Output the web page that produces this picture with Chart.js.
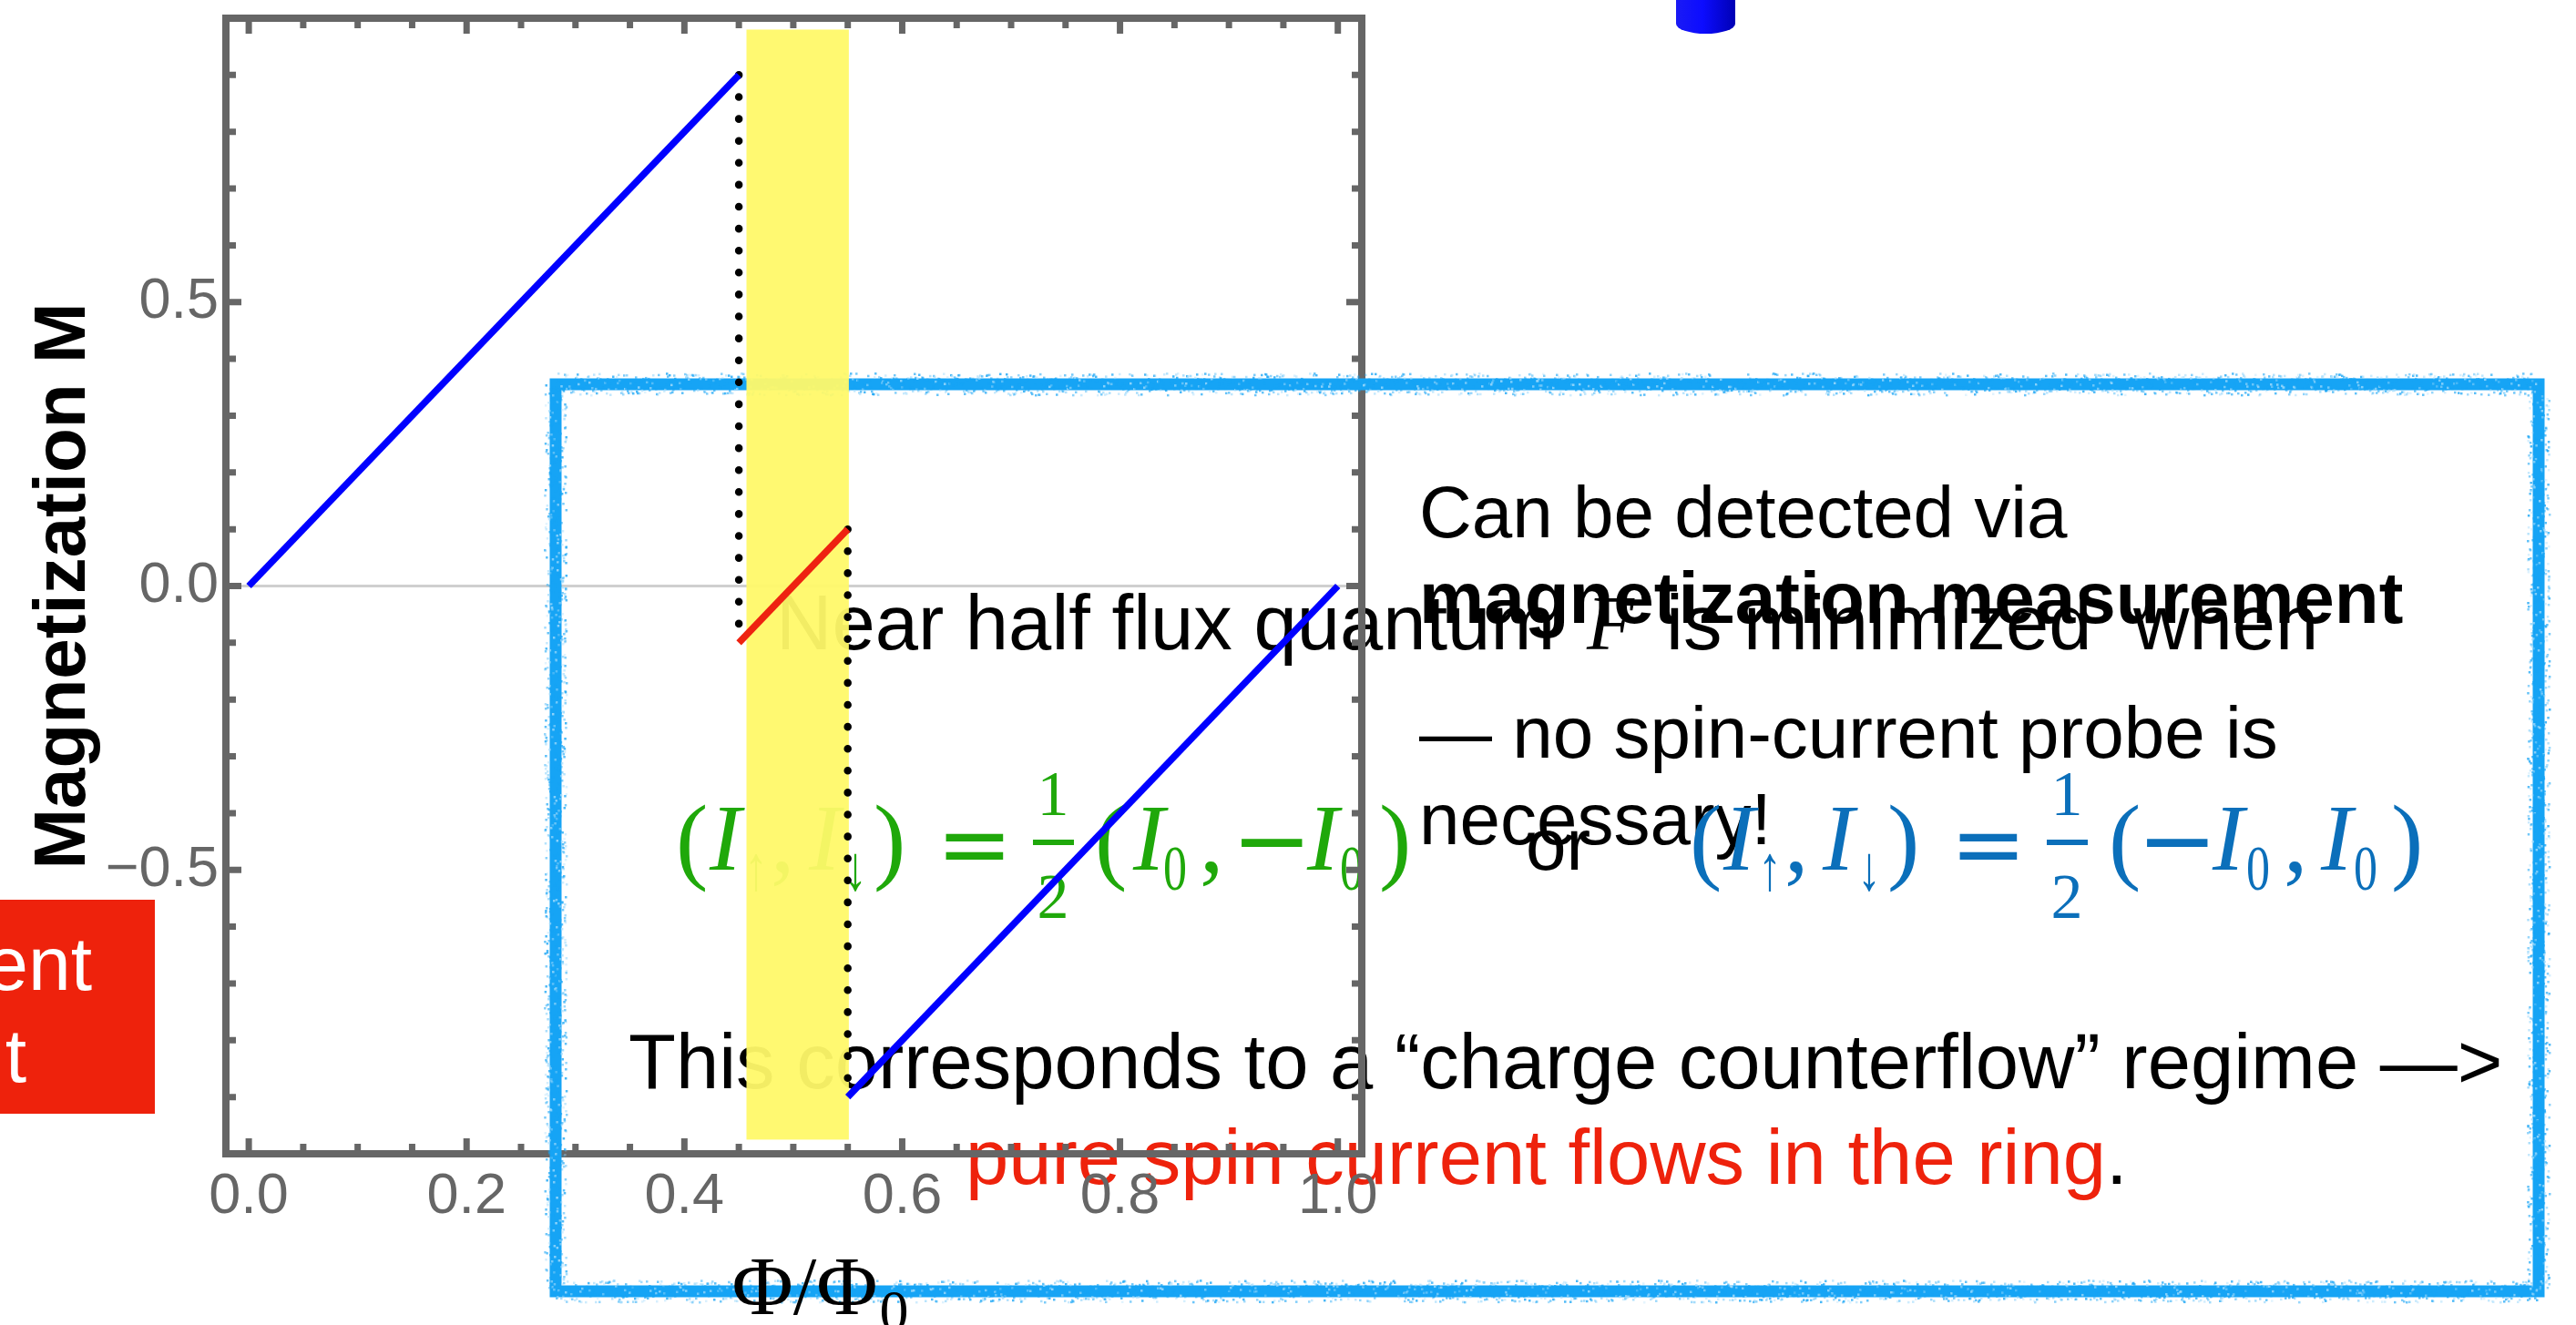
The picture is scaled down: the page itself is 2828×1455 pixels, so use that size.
<!DOCTYPE html>
<html>
<head>
<meta charset="utf-8">
<script src="https://cdn.jsdelivr.net/npm/chart.js@4.4.1/dist/chart.umd.min.js"></script>
<style>
  html, body { margin: 0; padding: 0; background: #fff; overflow: hidden; }
  canvas { display: block; }
</style>
</head>
<body>
<canvas id="magChart" width="2828" height="1455"></canvas>
<script>
// axis ranges and tick marks
const X_RANGE = [-0.021, 1.022];
const Y_RANGE = [-1, 1];
const X_TICKS = [0, 0.2, 0.4, 0.6, 0.8, 1.0];
const Y_TICKS = [-0.5, 0, 0.5];
const X_MINOR_STEP = 0.05;
const Y_MINOR_STEP = 0.1;

// magnetization branches M(Phi/Phi0)
const UPPER_PHI = [0, 0.45];
const UPPER_M = [0, 0.9];
const LOWER_PHI = [0.55, 1.0];
const LOWER_M = [-0.9, 0];
const MID_PHI = [0.45, 0.55];
const MID_M = [-0.1, 0.1];

// jumps between branches (dotted)
const JUMP_LEFT_PHI = [0.45, 0.45];
const JUMP_LEFT_M = [0.9, -0.1];
const JUMP_RIGHT_PHI = [0.55, 0.55];
const JUMP_RIGHT_M = [0.1, -0.9];

// highlighted window around half flux quantum
const BAND_PHI = [0.457, 0.551];
const BAND_M = [-0.975, 0.98];

const AXIS_GRAY = '#666666';
const SANS = "'Liberation Sans', Arial, sans-serif";
const SERIF = "'Liberation Serif', 'DejaVu Serif', serif";
const SYM = "'DejaVu Sans', sans-serif";
const RED = '#EE220C';
const CYAN = [22, 164, 245];

Chart.defaults.font.family = SANS;

function pts(xs, ys) {
    return xs.map((x, i) => ({ x: x, y: ys[i] }));
}

function fmtTick(v) {
    const s = Math.abs(v).toFixed(1);
    return v < -1e-9 ? '\u2212' + s : s;
}

function text(ctx, str, x, y, font, color, align) {
    ctx.font = font;
    ctx.fillStyle = color;
    ctx.textAlign = align || 'left';
    ctx.textBaseline = 'alphabetic';
    ctx.fillText(str, x, y);
    return ctx.measureText(str).width;
}

// formula glyph layout: [kind, glyph, offset from formula start]
const FORMULA_HEAD = [
    ['paren', '(', 0], ['it', 'I', 37], ['sub', '\u2191', 75], ['punct', ',', 104],
    ['it', 'I', 146], ['sub', '\u2193', 184], ['paren', ')', 217], ['rel', '=', 292],
    ['num', '1', 414], ['bar', '', 392], ['den', '2', 414], ['paren', '(', 460]
];
const GREEN_TAIL = [
    ['it', 'I', 502], ['sub', '0', 535], ['punct', ',', 575], ['op', '\u2212', 618],
    ['it', 'I', 693], ['sub', '0', 729], ['paren', ')', 772]
];
const BLUE_TAIL = [
    ['op', '\u2212', 499], ['it', 'I', 574], ['sub', '0', 611], ['punct', ',', 652],
    ['it', 'I', 693], ['sub', '0', 729], ['paren', ')', 770]
];

function drawFormula(ctx, x0, tokens, color) {
    const base = 955;
    ctx.fillStyle = color;
    ctx.textBaseline = 'alphabetic';
    tokens.forEach(([kind, g, dx]) => {
        const x = x0 + dx;
        ctx.textAlign = 'left';
        switch (kind) {
            case 'paren':
            case 'punct':
                ctx.font = '106px ' + SERIF;
                ctx.fillText(g, x, base + 2);
                break;
            case 'it':
                ctx.font = 'italic 104px ' + SERIF;
                ctx.fillText(g, x, base);
                break;
            case 'sub':
                ctx.font = '70px ' + SERIF;
                ctx.fillText(g, x, base + 22, 26);
                break;
            case 'rel':
                ctx.font = '100px ' + SYM;
                ctx.fillText(g, x - 6, base + 6);
                break;
            case 'op':
                ctx.font = '106px ' + SYM;
                ctx.fillText(g, x - 8, base + 4);
                break;
            case 'num':
                ctx.font = '70px ' + SERIF;
                ctx.textAlign = 'center';
                ctx.fillText(g, x, 895);
                break;
            case 'den':
                ctx.font = '70px ' + SERIF;
                ctx.textAlign = 'center';
                ctx.fillText(g, x, 1008);
                break;
            case 'bar':
                ctx.fillRect(x, 922, 45, 6);
                break;
        }
    });
}

// hand-drawn looking stroke for the callout border
function roughRect(ctx, x0, y0, x1, y1) {
    let seed = 1234567;
    const rnd = () => (seed = (seed * 16807) % 2147483647) / 2147483647;
    const [r, g, b] = CYAN;
    const sides = [[x0, y0, x1, y0], [x1, y0, x1, y1], [x1, y1, x0, y1], [x0, y1, x0, y0]];
    ctx.lineCap = 'square';
    ctx.lineWidth = 13;
    ctx.strokeStyle = `rgb(${r},${g},${b})`;
    ctx.strokeRect(x0, y0, x1 - x0, y1 - y0);
    sides.forEach(([ax, ay, bx, by]) => {
        const len = Math.hypot(bx - ax, by - ay);
        const ux = (bx - ax) / len, uy = (by - ay) / len;
        for (let s = 0; s < len; s += 1) {
            const off = (rnd() - 0.5) * 24;
            const a = 0.3 + rnd() * 0.5;
            const light = rnd() < 0.3;
            ctx.fillStyle = light ? `rgba(170,222,252,${a})` : `rgba(${r},${g},${b},${a})`;
            ctx.fillRect(ax + ux * s - uy * off - 1, ay + uy * s + ux * off - 1, 2.5, 2.5);
        }
    });
}

// slide text sitting underneath the plot
const slideText = {
    id: 'slideText',
    beforeDraw(chart) {
        const ctx = chart.ctx;
        ctx.save();
        ctx.fillStyle = '#ffffff';
        ctx.fillRect(0, 0, chart.width, chart.height);

        // blue cylinder peeking in at the top
        const g = ctx.createLinearGradient(1840, 0, 1905, 0);
        g.addColorStop(0, '#1a1af5');
        g.addColorStop(0.45, '#0c0cff');
        g.addColorStop(1, '#0000b4');
        ctx.fillStyle = g;
        ctx.beginPath();
        ctx.moveTo(1840, 0);
        ctx.lineTo(1840, 26);
        ctx.ellipse(1872.5, 26, 32.5, 11, 0, Math.PI, 0, true);
        ctx.lineTo(1905, 0);
        ctx.closePath();
        ctx.fill();

        // red label box cut by the left edge
        ctx.fillStyle = RED;
        ctx.fillRect(0, 988, 170, 235);
        text(ctx, 'ent', 101, 1087, '84px ' + SANS, '#ffffff', 'right');
        text(ctx, 't', 29, 1188, '84px ' + SANS, '#ffffff', 'right');

        const body = '85px ' + SANS;
        text(ctx, 'Near half flux quantum', 852, 713, body, '#000');
        text(ctx, 'F', 1742, 713, 'italic 85px ' + SERIF, '#000');
        text(ctx, 'is minimized', 1829, 713, body, '#000');
        text(ctx, 'when', 2342, 713, body, '#000');

        const side = '80px ' + SANS;
        text(ctx, 'Can be detected via', 1558, 590, side, '#000');
        text(ctx, 'magnetization measurement', 1558, 684, 'bold 80px ' + SANS, '#000');
        text(ctx, '\u2014 no spin-current probe is', 1558, 832, side, '#000');
        text(ctx, 'necessary!', 1558, 927, side, '#000');
        text(ctx, 'or', 1675, 955, side, '#000');

        drawFormula(ctx, 742, FORMULA_HEAD.concat(GREEN_TAIL), '#1FA80A');
        drawFormula(ctx, 1855, FORMULA_HEAD.concat(BLUE_TAIL), '#0B6FBA');

        text(ctx, 'This corresponds to a \u201Ccharge counterflow\u201D regime \u2014>', 690, 1195, body, '#000');
        const w = text(ctx, 'pure spin current flows in the ring', 1060, 1300, body, RED);
        text(ctx, '.', 1060 + w, 1300, body, '#000');
        ctx.restore();
    }
};

// Mathematica-style frame with inward ticks, callout border and highlight band
const framePlugin = {
    id: 'frame',
    beforeDatasetsDraw(chart) {
        const { ctx, chartArea: a, scales: { x, y } } = chart;
        ctx.save();
        ctx.strokeStyle = AXIS_GRAY;
        ctx.lineWidth = 8;
        ctx.lineCap = 'butt';
        ctx.strokeRect(a.left, a.top, a.right - a.left, a.bottom - a.top);

        ctx.lineWidth = 7;
        ctx.beginPath();
        const kx0 = Math.ceil(X_RANGE[0] / X_MINOR_STEP), kx1 = Math.floor(X_RANGE[1] / X_MINOR_STEP);
        for (let k = kx0; k <= kx1; k++) {
            const v = k * X_MINOR_STEP;
            const major = X_TICKS.some(t => Math.abs(t - v) < 1e-6);
            const len = major ? 13 : 7;
            const px = x.getPixelForValue(v);
            ctx.moveTo(px, a.bottom - 4); ctx.lineTo(px, a.bottom - 4 - len);
            ctx.moveTo(px, a.top + 4); ctx.lineTo(px, a.top + 4 + len);
        }
        const ky0 = Math.round(Y_RANGE[0] / Y_MINOR_STEP) + 1, ky1 = Math.round(Y_RANGE[1] / Y_MINOR_STEP) - 1;
        for (let k = ky0; k <= ky1; k++) {
            const v = k * Y_MINOR_STEP;
            const major = Y_TICKS.some(t => Math.abs(t - v) < 1e-6);
            const len = major ? 13 : 7;
            const py = y.getPixelForValue(v);
            ctx.moveTo(a.left + 4, py); ctx.lineTo(a.left + 4 + len, py);
            ctx.moveTo(a.right - 4, py); ctx.lineTo(a.right - 4 - len, py);
        }
        ctx.stroke();

        // sketchy cyan callout border
        roughRect(ctx, 610, 422, 2787, 1418);

        // yellow highlight
        const bx0 = x.getPixelForValue(BAND_PHI[0]), bx1 = x.getPixelForValue(BAND_PHI[1]);
        const by0 = y.getPixelForValue(BAND_M[1]), by1 = y.getPixelForValue(BAND_M[0]);
        ctx.fillStyle = 'rgba(255,249,105,0.95)';
        ctx.fillRect(bx0, by0, bx1 - bx0, by1 - by0);
        ctx.restore();
    },
    afterDatasetsDraw(chart) {
        const { ctx, chartArea: a } = chart;
        ctx.save();
        ctx.fillStyle = '#000';
        ctx.textBaseline = 'alphabetic';
        ctx.textAlign = 'left';
        ctx.font = '92px ' + SERIF;
        const main = 'Φ/Φ';
        const wm = ctx.measureText(main).width;
        ctx.font = '64px ' + SERIF;
        const ws = ctx.measureText('0').width;
        const x0 = (a.left + a.right) / 2 + 28 - (wm + ws) / 2;
        ctx.font = '92px ' + SERIF;
        ctx.fillText(main, x0, 1443);
        ctx.font = '64px ' + SERIF;
        ctx.fillText('0', x0 + wm + 2, 1461);
        ctx.restore();
    }
};

const lineStyle = { showLine: true, pointRadius: 0, pointHoverRadius: 0, fill: false, borderWidth: 7.5 };
const dotStyle = { showLine: true, pointRadius: 0, fill: false, borderWidth: 8.5, borderColor: '#000000',
    borderDash: [0.1, 24], borderCapStyle: 'round' };

new Chart(document.getElementById('magChart'), {
    type: 'scatter',
    data: {
        datasets: [
            Object.assign({ label: 'crossing', data: pts(MID_PHI, MID_M), borderColor: '#EE2211' }, lineStyle),
            Object.assign({ label: 'M (0 flux)', data: pts(UPPER_PHI, UPPER_M), borderColor: '#0000FF' }, lineStyle),
            Object.assign({ label: 'M (1 flux)', data: pts(LOWER_PHI, LOWER_M), borderColor: '#0000FF' }, lineStyle),
            Object.assign({ label: 'jump left', data: pts(JUMP_LEFT_PHI, JUMP_LEFT_M) }, dotStyle),
            Object.assign({ label: 'jump right', data: pts(JUMP_RIGHT_PHI, JUMP_RIGHT_M) }, dotStyle)
        ]
    },
    options: {
        responsive: false,
        devicePixelRatio: 1,
        animation: false,
        layout: { padding: { left: 0, top: 20, right: 1333, bottom: 0 } },
        plugins: {
            legend: { display: false },
            tooltip: { enabled: false }
        },
        scales: {
            x: {
                type: 'linear',
                min: X_RANGE[0],
                max: X_RANGE[1],
                afterBuildTicks: s => { s.ticks = X_TICKS.map(v => ({ value: v })); },
                afterFit: s => { s.height = 188; s.paddingLeft = 0; s.paddingRight = 0; },
                grid: { display: false, drawTicks: false },
                border: { display: false },
                ticks: { callback: v => fmtTick(v), color: AXIS_GRAY, font: { size: 63 }, padding: 10, maxRotation: 0, autoSkip: false },
                title: { display: false }
            },
            y: {
                type: 'linear',
                min: Y_RANGE[0],
                max: Y_RANGE[1],
                afterBuildTicks: s => { s.ticks = Y_TICKS.map(v => ({ value: v })); },
                afterFit: s => { s.width = 248; s.paddingTop = 0; s.paddingBottom = 0; },
                grid: {
                    drawTicks: false,
                    lineWidth: 3,
                    color: c => (c.tick && Math.abs(c.tick.value) < 1e-9) ? '#cfcfcf' : 'rgba(0,0,0,0)'
                },
                border: { display: false },
                ticks: { callback: v => fmtTick(v), color: AXIS_GRAY, font: { size: 63 }, padding: 8, autoSkip: false },
                title: {
                    display: true,
                    text: 'Magnetization M',
                    color: '#000000',
                    font: { size: 80, weight: 'bold' },
                    padding: { top: 23, bottom: 0 }
                }
            }
        }
    },
    plugins: [slideText, framePlugin]
});
</script>
</body>
</html>
